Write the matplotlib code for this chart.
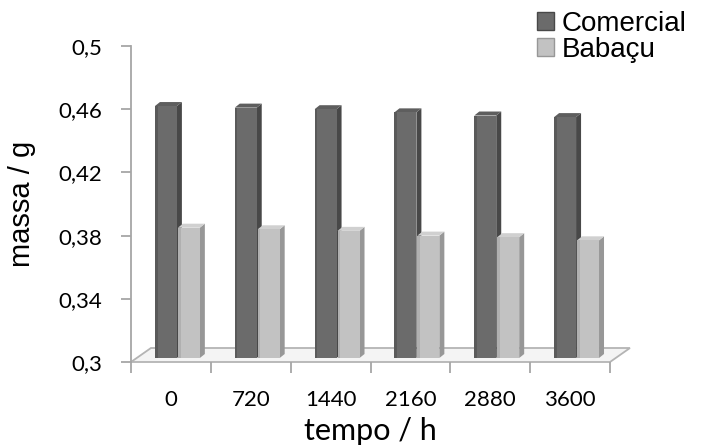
import matplotlib
matplotlib.use("Agg")
import matplotlib.pyplot as plt
from matplotlib.patches import Polygon, Rectangle
import numpy as np

categories = ["0", "720", "1440", "2160", "2880", "3600"]
comercial = [0.462, 0.461, 0.460, 0.458, 0.456, 0.455]
babacu = [0.385, 0.384, 0.383, 0.380, 0.379, 0.377]
series_names = ["Comercial", "Babaçu"]
yticks = [0.30, 0.34, 0.38, 0.42, 0.46, 0.50]
ytick_labels = ["0,3", "0,34", "0,38", "0,42", "0,46", "0,5"]

W, H = 706, 445
fig = plt.figure(figsize=(W / 100, H / 100), dpi=100)
ax = fig.add_axes([131 / W, 1 - 362 / H, 479 / W, 316 / H])

ymin, ymax = 0.3, 0.5
ax.set_xlim(-0.5, len(categories) - 0.5)
ax.set_ylim(ymin, ymax)

# pseudo-3D geometry (style)
px_y = (ymax - ymin) / 316.0
px_x = 1 / 80.0
floor_dx, floor_dy = 20 * px_x, 14 * px_y
base = ymin + 4 * px_y
bar_w = 22 * px_x
side_dx, side_dy = 5 * px_x, 4 * px_y
offsets = [-0.2, 0.0875]

styles = [
    dict(front="#6b6b6b", side="#484848", top="#5e5e5e", dark="#5a5a5a"),
    dict(front="#c2c2c2", side="#979797", top="#d0d0d0", dark="#b0b0b0"),
]

# floor
n = len(categories)
x0, x1 = -0.5, n - 0.5
floor = Polygon([(x0, ymin), (x1, ymin), (x1 + floor_dx, ymin + floor_dy),
                 (x0 + floor_dx, ymin + floor_dy)], closed=True,
                facecolor="#f4f4f4", edgecolor="#b4b4b4", lw=1.3, zorder=1,
                clip_on=False)
ax.add_patch(floor)

x = np.arange(n)
for s, vals in enumerate([comercial, babacu]):
    st = styles[s]
    for i, v in enumerate(vals):
        left = x[i] + offsets[s]
        right = left + bar_w
        z = 3 + s
        ax.add_patch(Polygon([(right, base), (right + side_dx, base + side_dy),
                              (right + side_dx, v + side_dy), (right, v)],
                             closed=True, facecolor=st["side"], edgecolor="none",
                             zorder=z))
        ax.add_patch(Polygon([(left, v), (right, v), (right + side_dx, v + side_dy),
                              (left + side_dx, v + side_dy)], closed=True,
                             facecolor=st["top"], edgecolor="none", zorder=z))
        ax.bar(left, v - base, width=bar_w, bottom=base, align="edge",
               color=st["front"], edgecolor="none", zorder=z)
        ax.add_patch(Rectangle((left, base), bar_w * 0.12, v - base,
                               facecolor=st["dark"], edgecolor="none", zorder=z + 0.1))

# axes styling
for sp in ["top", "right", "bottom"]:
    ax.spines[sp].set_visible(False)
ax.spines["left"].set_color("#a6a6a6")
ax.spines["left"].set_linewidth(1.3)
ax.set_yticks(yticks)
ax.set_yticklabels(ytick_labels)
ax.tick_params(axis="y", length=7, width=1.3, color="#a6a6a6", pad=14,
               labelsize=16)
ax.set_xticks(np.arange(n + 1) - 0.5, minor=True)
ax.set_xticks(x)
ax.set_xticklabels(categories)
ax.tick_params(axis="x", which="major", length=0, pad=20, labelsize=16)
ax.tick_params(axis="x", which="minor", length=8, width=1.3, color="#a6a6a6",
               direction="out")
for lbl in ax.get_xticklabels() + ax.get_yticklabels():
    lbl.set_family(["Lato", "DejaVu Sans"])

ax.set_xlabel("tempo / h", fontsize=22, labelpad=5, family=["Lato", "DejaVu Sans"])
ax.set_ylabel("massa / g", fontsize=21, labelpad=16, family="Liberation Sans")

handles = [Rectangle((0, 0), 1, 1, facecolor=styles[k]["front"],
                     edgecolor=styles[k]["side"]) for k in range(2)]
fig.legend(handles, series_names, loc="upper left",
           bbox_to_anchor=(537 / W, 1 - 11 / H), frameon=False,
           prop=dict(family="Liberation Sans", size=20),
           handlelength=0.6, handleheight=0.6, handletextpad=0.3,
           labelspacing=0.0, borderpad=0, borderaxespad=0)

fig.savefig("out.png", dpi=100)
